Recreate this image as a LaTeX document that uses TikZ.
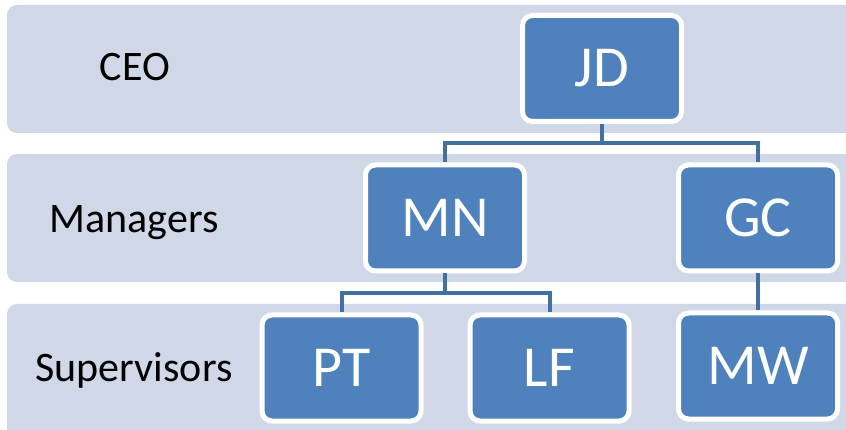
\documentclass[tikz,border=0pt]{standalone}
\usepackage{fontspec}
\setmainfont{Carlito}
\definecolor{band}{HTML}{D0D8E8}
\definecolor{boxblue}{HTML}{4F81BD}
\definecolor{conn}{HTML}{41719C}
\begin{document}
\begin{tikzpicture}[x=1pt,y=-1pt,
  bandbox/.style={fill=band, rounded corners=10pt},
  person/.style={draw=white, line width=5pt, fill=boxblue, rounded corners=10pt,
    minimum width=159pt, minimum height=106pt, text=white, inner sep=0pt,
    font=\fontsize{58}{60}\selectfont},
  level/.style={text=black, font=\fontsize{42}{46}\selectfont, inner sep=0pt, anchor=base},
  link/.style={draw=conn, line width=4pt}]
\clip (0,0) rectangle (846,430);
\useasboundingbox (0,0) rectangle (846,430);
\fill[white] (0,0) rectangle (846,430);
% bands
\path[bandbox] (7,5) rectangle (860,133);
\path[bandbox] (7,154) rectangle (860,282);
\path[bandbox] (7,304) rectangle (860,440);
% level labels
\node[level] (lceo) at (135,81) {CEO};
\node[level] (lman) at (134,233) {Managers};
\node[level] (lsup) at (134,381) {Supervisors};
% people
\node[person] (JD) at (602,68.5) {JD};
\node[person] (MN) at (445,218) {MN};
\node[person] (GC) at (758,218) {GC};
\node[person] (PT) at (341.5,368) {PT};
\node[person] (LF) at (549.5,368) {LF};
\node[person] (MW) at (758,366) {MW};
% connectors
\draw[link] (JD.south) -- ++(0,19) -| (MN.north);
\draw[link] (JD.south) -- ++(0,19) -| (GC.north);
\draw[link] (MN.south) -- ++(0,20) -| (PT.north);
\draw[link] (MN.south) -- ++(0,20) -| (LF.north);
\draw[link] (GC.south) -- (MW.north);
\end{tikzpicture}
\end{document}
